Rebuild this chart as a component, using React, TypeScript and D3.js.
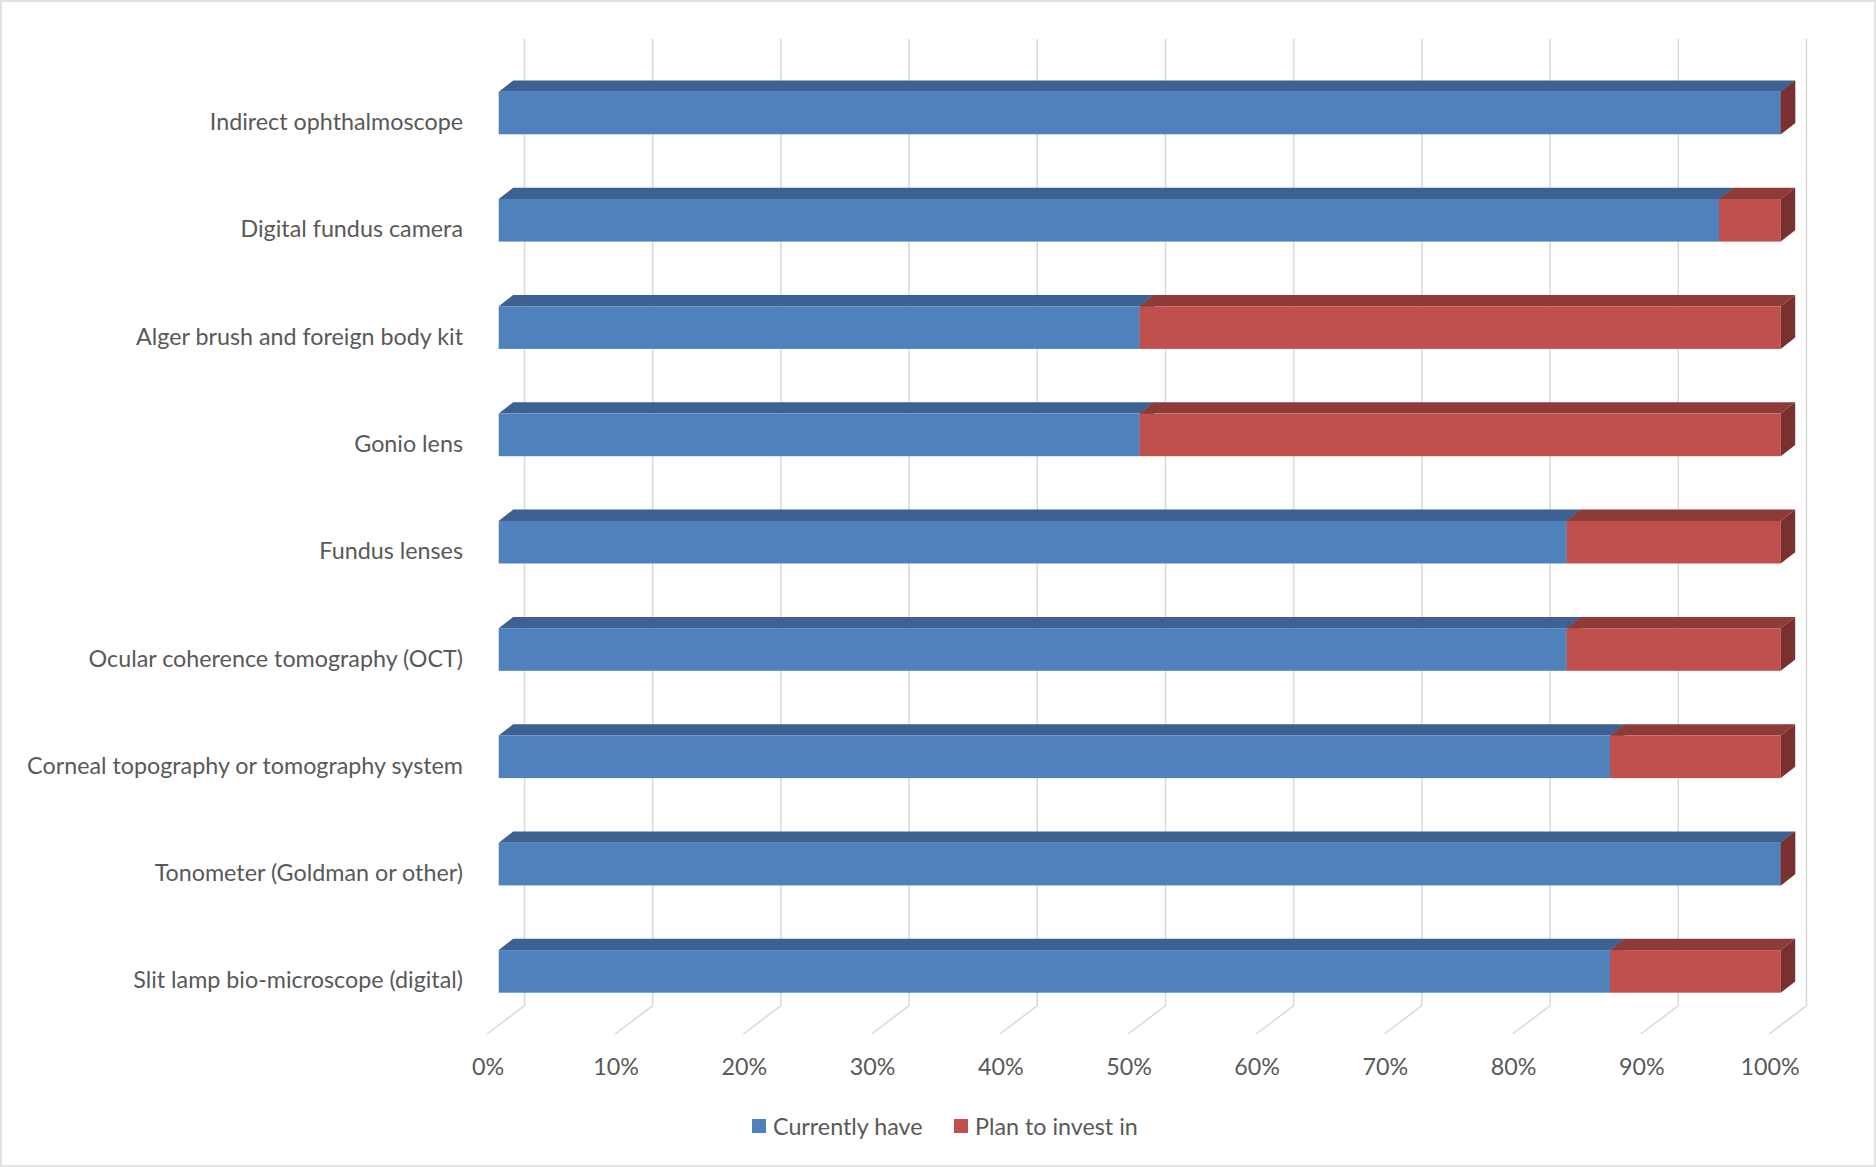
import React from "react";
import * as d3 from "d3";

const categories = [
  "Indirect ophthalmoscope",
  "Digital fundus camera",
  "Alger brush and foreign body kit",
  "Gonio lens",
  "Fundus lenses",
  "Ocular coherence tomography (OCT)",
  "Corneal topography or tomography system",
  "Tonometer (Goldman or other)",
  "Slit lamp bio-microscope (digital)",
];
const currentlyHave = [100, 95.2, 50, 50, 83.3, 83.3, 86.7, 100, 86.7];
const planToInvest = [0, 4.8, 50, 50, 16.7, 16.7, 13.3, 0, 13.3];
const seriesNames = ["Currently have", "Plan to invest in"];
const tickValues = [0, 10, 20, 30, 40, 50, 60, 70, 80, 90, 100];

const W = 1876;
const H = 1167;
const FONT = "Lato, 'Open Sans', sans-serif";
const TEXT = "#595959";
const GRID = "#d9d9d9";
const FS = 23.3;
const colors = [
  { front: "#4F81BD", top: "#3D6190", side: "#335480" },
  { front: "#C0504D", top: "#8E3A38", side: "#79302E" },
];

export default function App() {
  const x = d3.scaleLinear().domain([0, 100]).range([498.7, 1780.7]);
  const y = d3.scalePoint<string>().domain(categories).range([113, 971.4]);
  const halfH = 21.3;
  const dx = 14.5;
  const dy = 11.3;
  const backOff = 25.8; // back wall offset from bar front
  const gridTop = 39;
  const floorBack = 1005.7;
  const floorFront = 1034;
  const floorDx = 37.5;

  const series = [currentlyHave, planToInvest];
  const stack = categories.map((c, i) => {
    let acc = 0;
    return series.map((s) => {
      const x0 = acc;
      acc += s[i];
      return [x0, acc];
    });
  });

  return (
    <svg
      width={W}
      height={H}
      style={{ position: "absolute", left: 0, top: 0, background: "#fff" }}
      fontFamily={FONT}
    >
      <rect x={1} y={1} width={W - 2} height={H - 2} fill="#fff" stroke={GRID} strokeWidth={1.5} />
      {tickValues.map((t) => {
        const bx = x(t) + backOff;
        return (
          <g key={t}>
            <polyline
              points={`${bx},${gridTop} ${bx},${floorBack} ${bx - floorDx},${floorFront}`}
              fill="none"
              stroke={GRID}
              strokeWidth={1.5}
            />
            <text
              x={bx - floorDx + 1}
              y={1066}
              textAnchor="middle"
              dominantBaseline="central"
              fontSize={FS}
              fill={TEXT}
            >
              {t}%
            </text>
          </g>
        );
      })}
      {categories.map((c, i) => {
        const cy = y(c)!;
        const top = cy - halfH;
        const bot = cy + halfH;
        return (
          <g key={c}>
            {stack[i].map(([a, b], si) => {
              const x0 = x(a);
              const x1 = x(b);
              const col = colors[si];
              return (
                <g key={si}>
                  {b > a && (
                    <polygon
                      points={`${x0},${top} ${x0 + dx},${top - dy} ${x1 + dx},${top - dy} ${x1},${top}`}
                      fill={col.top}
                    />
                  )}
                  {b > a && <rect x={x0} y={top} width={x1 - x0} height={bot - top} fill={col.front} />}
                  <polygon
                    points={`${x1},${top} ${x1 + dx},${top - dy} ${x1 + dx},${bot - dy} ${x1},${bot}`}
                    fill={col.side}
                  />
                </g>
              );
            })}
            <text
              x={463}
              y={cy + 8}
              textAnchor="end"
              dominantBaseline="central"
              fontSize={FS}
              fill={TEXT}
            >
              {c}
            </text>
          </g>
        );
      })}
      {seriesNames.map((s, i) => {
        const lx = i === 0 ? 752 : 954;
        return (
          <g key={s}>
            <rect x={lx} y={1119} width={14} height={14} fill={colors[i].front} />
            <text x={lx + 21} y={1126} dominantBaseline="central" fontSize={FS} fill={TEXT}>
              {s}
            </text>
          </g>
        );
      })}
    </svg>
  );
}
